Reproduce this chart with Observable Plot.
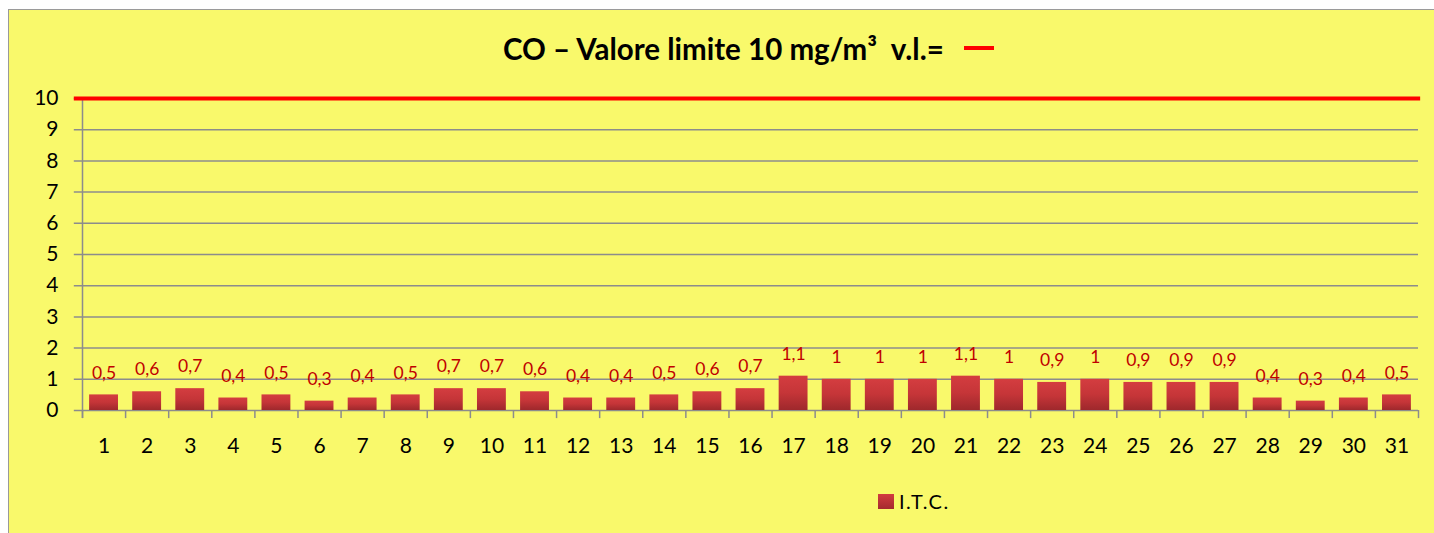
<!DOCTYPE html>
<html><head><meta charset="utf-8">
<script src="https://cdn.jsdelivr.net/npm/d3@7"></script>
<script src="https://cdn.jsdelivr.net/npm/@observablehq/plot@0.6"></script>
<style>
body{margin:0;background:#fff;font-family:Lato,"Open Sans",sans-serif;}
#frame{position:absolute;left:8px;top:9px;width:1426px;height:524px;background:#F9F96B;border-left:1.5px solid #9a9a9a;border-top:1.5px solid #9a9a9a;box-sizing:border-box;overflow:hidden;}
#title{position:absolute;left:503px;top:31px;white-space:nowrap;font-weight:bold;font-size:29.5px;color:#000;}
#title .dash{display:inline-block;width:30px;height:4px;background:#ff0000;vertical-align:middle;margin-left:20px;position:relative;top:-4px;}
#chart{position:absolute;left:0;top:75px;}
#legend{position:absolute;left:878px;top:489px;font-size:20px;letter-spacing:1.5px;color:#000;display:flex;align-items:center;}
#legend .sw{width:16px;height:15px;background:linear-gradient(#d23c3f,#a52a2e);margin-right:5px;}
</style></head>
<body>
<div id="title">CO – Valore limite 10 mg/m³&nbsp;&nbsp;v.l.=<span class="dash"></span></div>
<div id="chart"></div>
<div id="legend"><div class="sw"></div>I.T.C.</div>
<script>
const days = d3.range(1, 32);
const values = [0.5,0.6,0.7,0.4,0.5,0.3,0.4,0.5,0.7,0.7,0.6,0.4,0.4,0.5,0.6,0.7,1.1,1,1,1,1.1,1,0.9,1,0.9,0.9,0.9,0.4,0.3,0.4,0.5];
const yTicks = d3.range(0, 11);
const limit = 10;
const seriesName = "I.T.C.";
const data = days.map((d, i) => ({day: d, value: values[i]}));
const boundaries = d3.range(0, 32).map(i => i + 0.5);

const fmt = v => String(v).replace(".", ",");

const plot = Plot.plot({
  width: 1434, height: 395,
  marginLeft: 82, marginRight: 16, marginTop: 23, marginBottom: 60,
  style: {background: "transparent", fontFamily: "Lato, 'Open Sans', sans-serif"},
  x: {type: "linear", domain: [0.5, 31.5], axis: null},
  y: {type: "linear", domain: [0, 10], axis: null},
  marks: [
    Plot.ruleY(yTicks, {x1: 0.31, x2: 31.5, stroke: "#8c8c8c", strokeWidth: 1.5}),
    Plot.rectY(data, {x1: d => d.day - 0.335, x2: d => d.day + 0.335, y1: 0, y2: "value", fill: "url(#barGrad)", style: "filter: drop-shadow(2px 2px 2px rgba(0,0,0,0.25))"}),
    Plot.ruleX([0.5], {y1: -0.26, y2: 10, stroke: "#8c8c8c", strokeWidth: 1.5}),
    Plot.ruleX(boundaries, {x: d => d, y1: -0.26, y2: 0, stroke: "#8c8c8c", strokeWidth: 1.5}),
    Plot.text(yTicks, {x: 0.5, y: d => d, text: d => String(d), textAnchor: "end", dx: -24, fontSize: 21, fill: "#000"}),
    Plot.text(days, {x: d => d, y: 0, text: d => String(d), dy: 36, fontSize: 21, fill: "#000"}),
    Plot.text(data, {x: "day", y: "value", text: d => fmt(d.value), dy: -22, fontSize: 17.5, fill: "#c00000"}),
    Plot.ruleY([limit], {x1: 0.31, x2: 31.55, stroke: "#ff0000", strokeWidth: 4})
  ]
});
const ns = "http://www.w3.org/2000/svg";
const defs = document.createElementNS(ns, "defs");
defs.innerHTML = '<linearGradient id="barGrad" x1="0" y1="0" x2="0" y2="1"><stop offset="0" stop-color="#d43d40"/><stop offset="0.5" stop-color="#c53538"/><stop offset="1" stop-color="#9e282c"/></linearGradient>';
plot.insertBefore(defs, plot.firstChild);
document.getElementById("chart").appendChild(plot);
const frame = document.createElement("div");
frame.id = "frame";
document.body.insertBefore(frame, document.body.firstChild);
</script>
</body></html>
